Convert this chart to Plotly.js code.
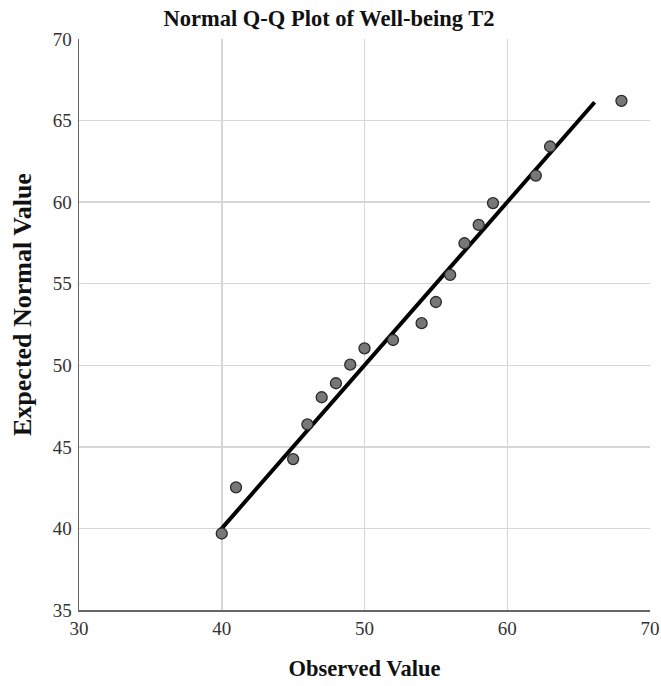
<!DOCTYPE html>
<html>
<head>
<meta charset="utf-8">
<script src="https://cdn.plot.ly/plotly-3.0.1.min.js"></script>
<style>html,body{margin:0;padding:0;background:#fff;}#chart{width:661px;height:686px;}</style>
</head>
<body>
<div id="chart"></div>
<script>
// Observed values and their expected normal values
const observedValues = [40, 41, 45, 46, 47, 48, 49, 50, 52, 54, 55, 56, 57, 58, 59, 62, 63, 68];
const expectedNormal = [39.69, 42.52, 44.25, 46.38, 48.04, 48.9, 50.04, 51.04, 51.55, 52.58, 53.88, 55.54, 57.48, 58.61, 59.94, 61.63, 63.41, 66.21];
// Reference line (y = x) endpoints
const refLineX = [39.85, 66.12];
const refLineY = [39.85, 66.12];
const xTicks = [30, 40, 50, 60, 70];
const yTicks = [35, 40, 45, 50, 55, 60, 65, 70];

const serif = '"Liberation Serif", "Times New Roman", serif';

const traces = [
  {
    x: refLineX, y: refLineY, mode: 'lines', type: 'scatter',
    line: {color: '#000000', width: 4}, hoverinfo: 'skip', showlegend: false
  },
  {
    x: observedValues, y: expectedNormal, mode: 'markers', type: 'scatter',
    marker: {size: 11, color: '#777777', line: {color: '#2a2a2a', width: 1.3}},
    showlegend: false
  }
];

const layout = {
  width: 661, height: 686,
  paper_bgcolor: '#ffffff', plot_bgcolor: '#ffffff',
  margin: {l: 79, r: 11, t: 39, b: 76},
  font: {family: serif, color: '#333333', size: 19},
  title: {
    text: '<b>Normal Q-Q Plot of Well-being T2</b>',
    font: {family: serif, size: 22.5, color: '#111111'},
    x: 329/661, xanchor: 'center', xref: 'container',
    y: 1 - 18/686, yanchor: 'middle', yref: 'container'
  },
  xaxis: {
    range: [30, 70], tickvals: xTicks, ticktext: xTicks.map(String),
    showgrid: true, gridcolor: '#d6d6d6', gridwidth: 1.5,
    zeroline: false, showline: true, linecolor: '#666666', linewidth: 1.5,
    ticks: '', ticklabelstandoff: 1,
    tickfont: {family: serif, size: 19, color: '#333333'},
    title: {text: '<b>Observed Value</b>', font: {family: serif, size: 22.5, color: '#111111'}, standoff: 22}
  },
  yaxis: {
    range: [35, 70], tickvals: yTicks, ticktext: yTicks.map(String),
    showgrid: true, gridcolor: '#d6d6d6', gridwidth: 1.5,
    zeroline: false, showline: true, linecolor: '#666666', linewidth: 1.5,
    ticks: '', ticklabelstandoff: 2,
    tickfont: {family: serif, size: 19, color: '#333333'}
  },
  annotations: [{
    text: '<b>Expected Normal Value</b>', textangle: -90, showarrow: false,
    xref: 'paper', yref: 'paper',
    x: -(79 - 22) / 571, y: (610 - 305) / 571, xanchor: 'center', yanchor: 'middle',
    font: {family: serif, size: 26, color: '#111111'}
  }]
};

Plotly.newPlot('chart', traces, layout, {staticPlot: true, displayModeBar: false});
</script>
</body>
</html>
